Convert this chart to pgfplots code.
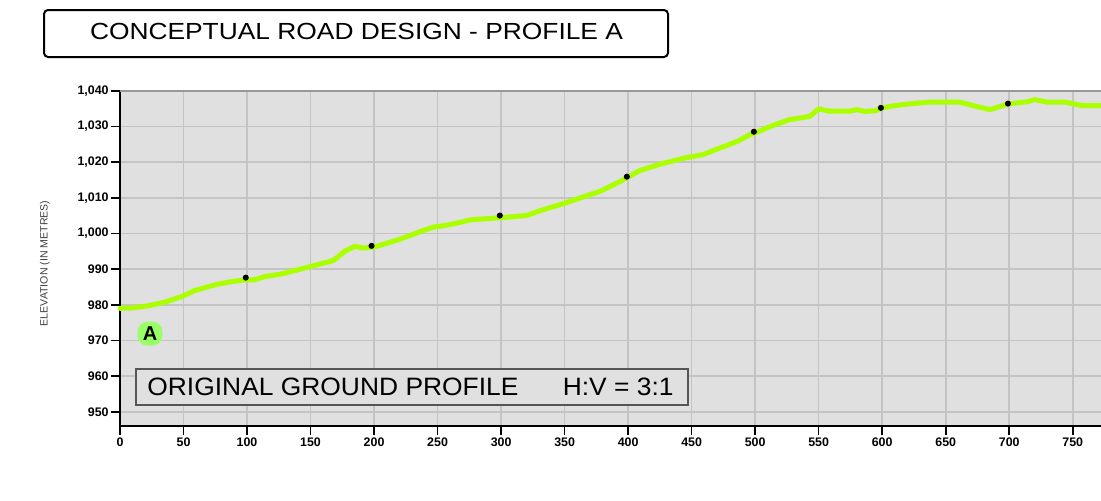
\documentclass[border=0pt]{standalone}
\usepackage{fontspec}
\setmainfont{Liberation Sans}
\usepackage{graphicx}
\usepackage{pgfplots}
\pgfplotsset{compat=1.18}
\definecolor{bggray}{HTML}{E0E0E0}
\definecolor{gridgray}{HTML}{C4C4C4}
\definecolor{profile}{HTML}{AAFF00}
\definecolor{labelgreen}{HTML}{99FF66}
\definecolor{boxgray}{HTML}{555555}
\begin{document}
\begin{tikzpicture}
\useasboundingbox (0,0) rectangle (550.5pt,250pt);
\begin{axis}[
 at={(60pt,37pt)}, anchor=south west, scale only axis,
 width=492.24pt, height=167.65pt,
 xmin=0, xmax=775, ymin=946, ymax=1040,
 xtick={0,50,...,750}, ytick={950,960,...,1040},
 axis background/.style={fill=bggray},
 grid=major, grid style={gridgray, line width=0.8pt},
 axis x line*=bottom, axis y line*=left,
 axis line style={black, line width=1pt, -},
 tick style={black, line width=0.8pt},
 tick align=outside, major tick length=4.5pt,
 /pgf/number format/assume math mode=true,
 /pgf/number format/1000 sep={,},
 ticklabel style={font=\fontsize{6.2}{7}\selectfont\bfseries, inner sep=1pt},
 ylabel={ELEVATION (IN METRES)},
 ylabel style={at={(axis description cs:-0.0762,0.485)}, anchor=center, font=\fontsize{5.3}{6}\selectfont, text=black!75},
 clip=false,
]
\addplot[profile, line width=2.5pt, line join=round, line cap=round] coordinates {
(0,979) (10,979.1) (22,979.7) (35,980.7) (48,982.2) (59,984) (75,985.6) (88,986.5)
(99,987) (106,987) (114,987.9) (127,988.6) (140,989.8) (153,991) (168,992.4)
(177,995) (185,996.4) (191,995.9) (199,996.1) (206,996.8) (219,998.2) (232,999.9)
(237,1000.6) (247,1001.8) (252,1002) (263,1002.7) (276,1003.8) (296,1004.3)
(320,1005) (331,1006.4) (346,1008) (362,1009.9) (378,1011.8) (394,1014.6)
(409,1017.6) (425,1019.4) (444,1021.1) (459,1022.1) (472,1023.9) (486,1025.8)
(496,1027.7) (501,1028.3) (512,1030) (527,1031.9) (543,1032.8) (550,1034.9)
(558,1034.3) (575,1034.3) (580,1034.7) (586,1034.2) (595,1034.4) (599,1035.1)
(611,1035.9) (627,1036.5) (638,1036.8) (661,1036.8) (674,1035.6) (685,1034.7)
(699,1036.3) (714,1036.9) (720,1037.5) (730,1036.8) (744,1036.8) (751,1036.3)
(758,1035.8) (775,1035.8)
};
\addplot[only marks, mark=*, mark size=1.3pt, black] coordinates {
(99,987.6) (198,996.5) (299,1005) (399,1015.9) (499,1028.5) (599,1035.2) (699,1036.4)
};
\node[fill=labelgreen, rounded corners=5pt, inner sep=2.6pt, font=\fontsize{10}{12}\selectfont\bfseries] at (axis cs:23.6,971.9) {A};
\draw[gray!80, line width=1pt] (rel axis cs:0,1) -- (rel axis cs:1,1);
\end{axis}
\draw[black, line width=1pt, rounded corners=2pt, fill=white] (22pt,221.5pt) rectangle (334pt,245pt);
\node at (178.25pt,234.5pt) {\scalebox{1.13}[1]{\fontsize{11.66}{14}\selectfont CONCEPTUAL ROAD DESIGN - PROFILE A}};
\draw[boxgray, line width=1.2pt, fill=bggray] (68pt,47.5pt) rectangle (344pt,65.5pt);
\node[anchor=west, inner sep=0] at (73.5pt,56.6pt) {\scalebox{1.05}[1]{\fontsize{12.57}{15}\selectfont ORIGINAL GROUND PROFILE}};
\node[anchor=east, inner sep=0] at (337pt,56.6pt) {\scalebox{1.05}[1]{\fontsize{12.57}{15}\selectfont H:V = 3:1}};
\end{tikzpicture}
\end{document}
